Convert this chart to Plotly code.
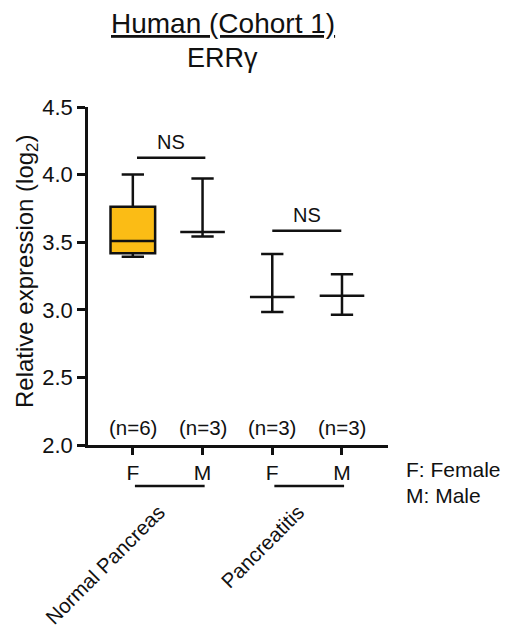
import plotly.graph_objects as go

# ---- data ----
positions = [1, 2, 3, 4]
tick_labels = ["F", "M", "F", "M"]
n_labels = ["(n=6)", "(n=3)", "(n=3)", "(n=3)"]
q1 = [3.418, 3.576, 3.094, 3.103]
median = [3.509, 3.576, 3.094, 3.103]
q3 = [3.763, 3.576, 3.094, 3.103]
lower = [3.393, 3.542, 2.984, 2.964]
upper = [4.000, 3.971, 3.413, 3.263]
fills = ["#FBBC15", "rgba(0,0,0,0)", "rgba(0,0,0,0)", "rgba(0,0,0,0)"]
groups = ["Normal Pancreas", "Pancreatitis"]
group_members = [(1, 2), (3, 4)]
ns_bars = [(1.06, 2.04, 4.125), (3.0, 3.99, 3.585)]

XR = [0.357, 4.66]
YR = [2.0, 4.5]
OFF = 8  # page body margin
W, H = 500, 623
# reference page-pixel plot box: x 88..388, y 107..445
PL, PR, PT, PB = 88 - OFF, 388 - OFF, 107 - OFF, 445 - OFF
ML, MR, MT, MB = PL, W - PR, PT, H - PB
PW = PR - PL
PH = PB - PT

def py(page_y):
    return (PB - (page_y - OFF)) / PH

def px(page_x):
    return ((page_x - OFF) - PL) / PW

def dx(v):
    return (v - XR[0]) / (XR[1] - XR[0])

FONT = "Liberation Sans, Arial, sans-serif"
BLACK = "#111111"

fig = go.Figure()
for i in range(len(positions)):
    fig.add_trace(go.Box(
        x=[positions[i]], q1=[q1[i]], median=[median[i]], q3=[q3[i]],
        lowerfence=[lower[i]], upperfence=[upper[i]],
        width=0.64, whiskerwidth=0.5, fillcolor=fills[i],
        line=dict(color=BLACK, width=2.5), boxpoints=False,
        showlegend=False, hoverinfo="skip"))

shapes = []
annotations = []
for (x0, x1, y) in ns_bars:
    shapes.append(dict(type="line", xref="x", yref="y", x0=x0, x1=x1, y0=y, y1=y,
                       line=dict(color=BLACK, width=2.5)))
    annotations.append(dict(x=(x0 + x1) / 2, y=y, xref="x", yref="y", text="NS",
                            showarrow=False, yanchor="bottom", yshift=3,
                            font=dict(size=20, color=BLACK, family=FONT)))

for p, t in zip(positions, n_labels):
    annotations.append(dict(x=p, y=2.126, xref="x", yref="y", text=t, showarrow=False,
                            yanchor="middle", font=dict(size=20.5, color=BLACK, family=FONT)))

for g, (a, b) in zip(groups, group_members):
    shapes.append(dict(type="line", xref="paper", yref="paper",
                       x0=dx(a + 0.03), x1=dx(b + 0.03),
                       y0=py(486), y1=py(486),
                       line=dict(color=BLACK, width=2.5)))
    annotations.append(dict(x=dx((a + b) / 2), y=py(498), xref="paper", yref="paper",
                            text=g, textangle=-45, showarrow=False, xanchor="right", yanchor="top",
                            xshift=4, font=dict(size=20.5, color=BLACK, family=FONT)))

annotations.append(dict(x=px(404), y=py(469), xref="paper", yref="paper",
                        text="F: Female", showarrow=False, xanchor="left", yanchor="middle",
                        font=dict(size=21, color=BLACK, family=FONT)))
annotations.append(dict(x=px(404), y=py(495), xref="paper", yref="paper",
                        text="M: Male", showarrow=False, xanchor="left", yanchor="middle",
                        font=dict(size=21, color=BLACK, family=FONT)))

annotations.append(dict(x=px(223), y=py(23), xref="paper", yref="paper",
                        text="<u>Human (Cohort 1)</u>", showarrow=False, xanchor="center",
                        yanchor="middle", font=dict(size=28, color=BLACK, family=FONT)))
annotations.append(dict(x=px(222), y=py(58), xref="paper", yref="paper",
                        text="ERRγ", showarrow=False, xanchor="center",
                        yanchor="middle", font=dict(size=27, color=BLACK, family=FONT)))
annotations.append(dict(x=px(26), y=py(272), xref="paper", yref="paper",
                        text="Relative expression (log<sub>2</sub>)", textangle=-90,
                        showarrow=False, xanchor="center", yanchor="middle",
                        font=dict(size=24, color=BLACK, family=FONT)))

fig.update_layout(
    width=W, height=H, margin=dict(l=ML, r=MR, t=MT, b=MB, pad=0),
    paper_bgcolor="white", plot_bgcolor="white", boxmode="overlay",
    shapes=shapes, annotations=annotations, showlegend=False,
    font=dict(family=FONT, color=BLACK),
    xaxis=dict(range=XR, tickvals=positions, ticktext=tick_labels, showgrid=False,
               zeroline=False, showline=True, linecolor=BLACK, linewidth=2.5,
               ticks="outside", ticklen=7, tickwidth=2.5, tickcolor=BLACK,
               tickfont=dict(size=21, color=BLACK, family=FONT)),
    yaxis=dict(range=YR, tickvals=[2.0, 2.5, 3.0, 3.5, 4.0, 4.5],
               ticktext=["2.0", "2.5", "3.0", "3.5", "4.0", "4.5"], showgrid=False,
               zeroline=False, showline=True, linecolor=BLACK, linewidth=2.5,
               ticks="outside", ticklen=8, tickwidth=2.5, tickcolor=BLACK,
               tickfont=dict(size=22, color=BLACK, family=FONT)),
)

fig.write_html("out.html")
